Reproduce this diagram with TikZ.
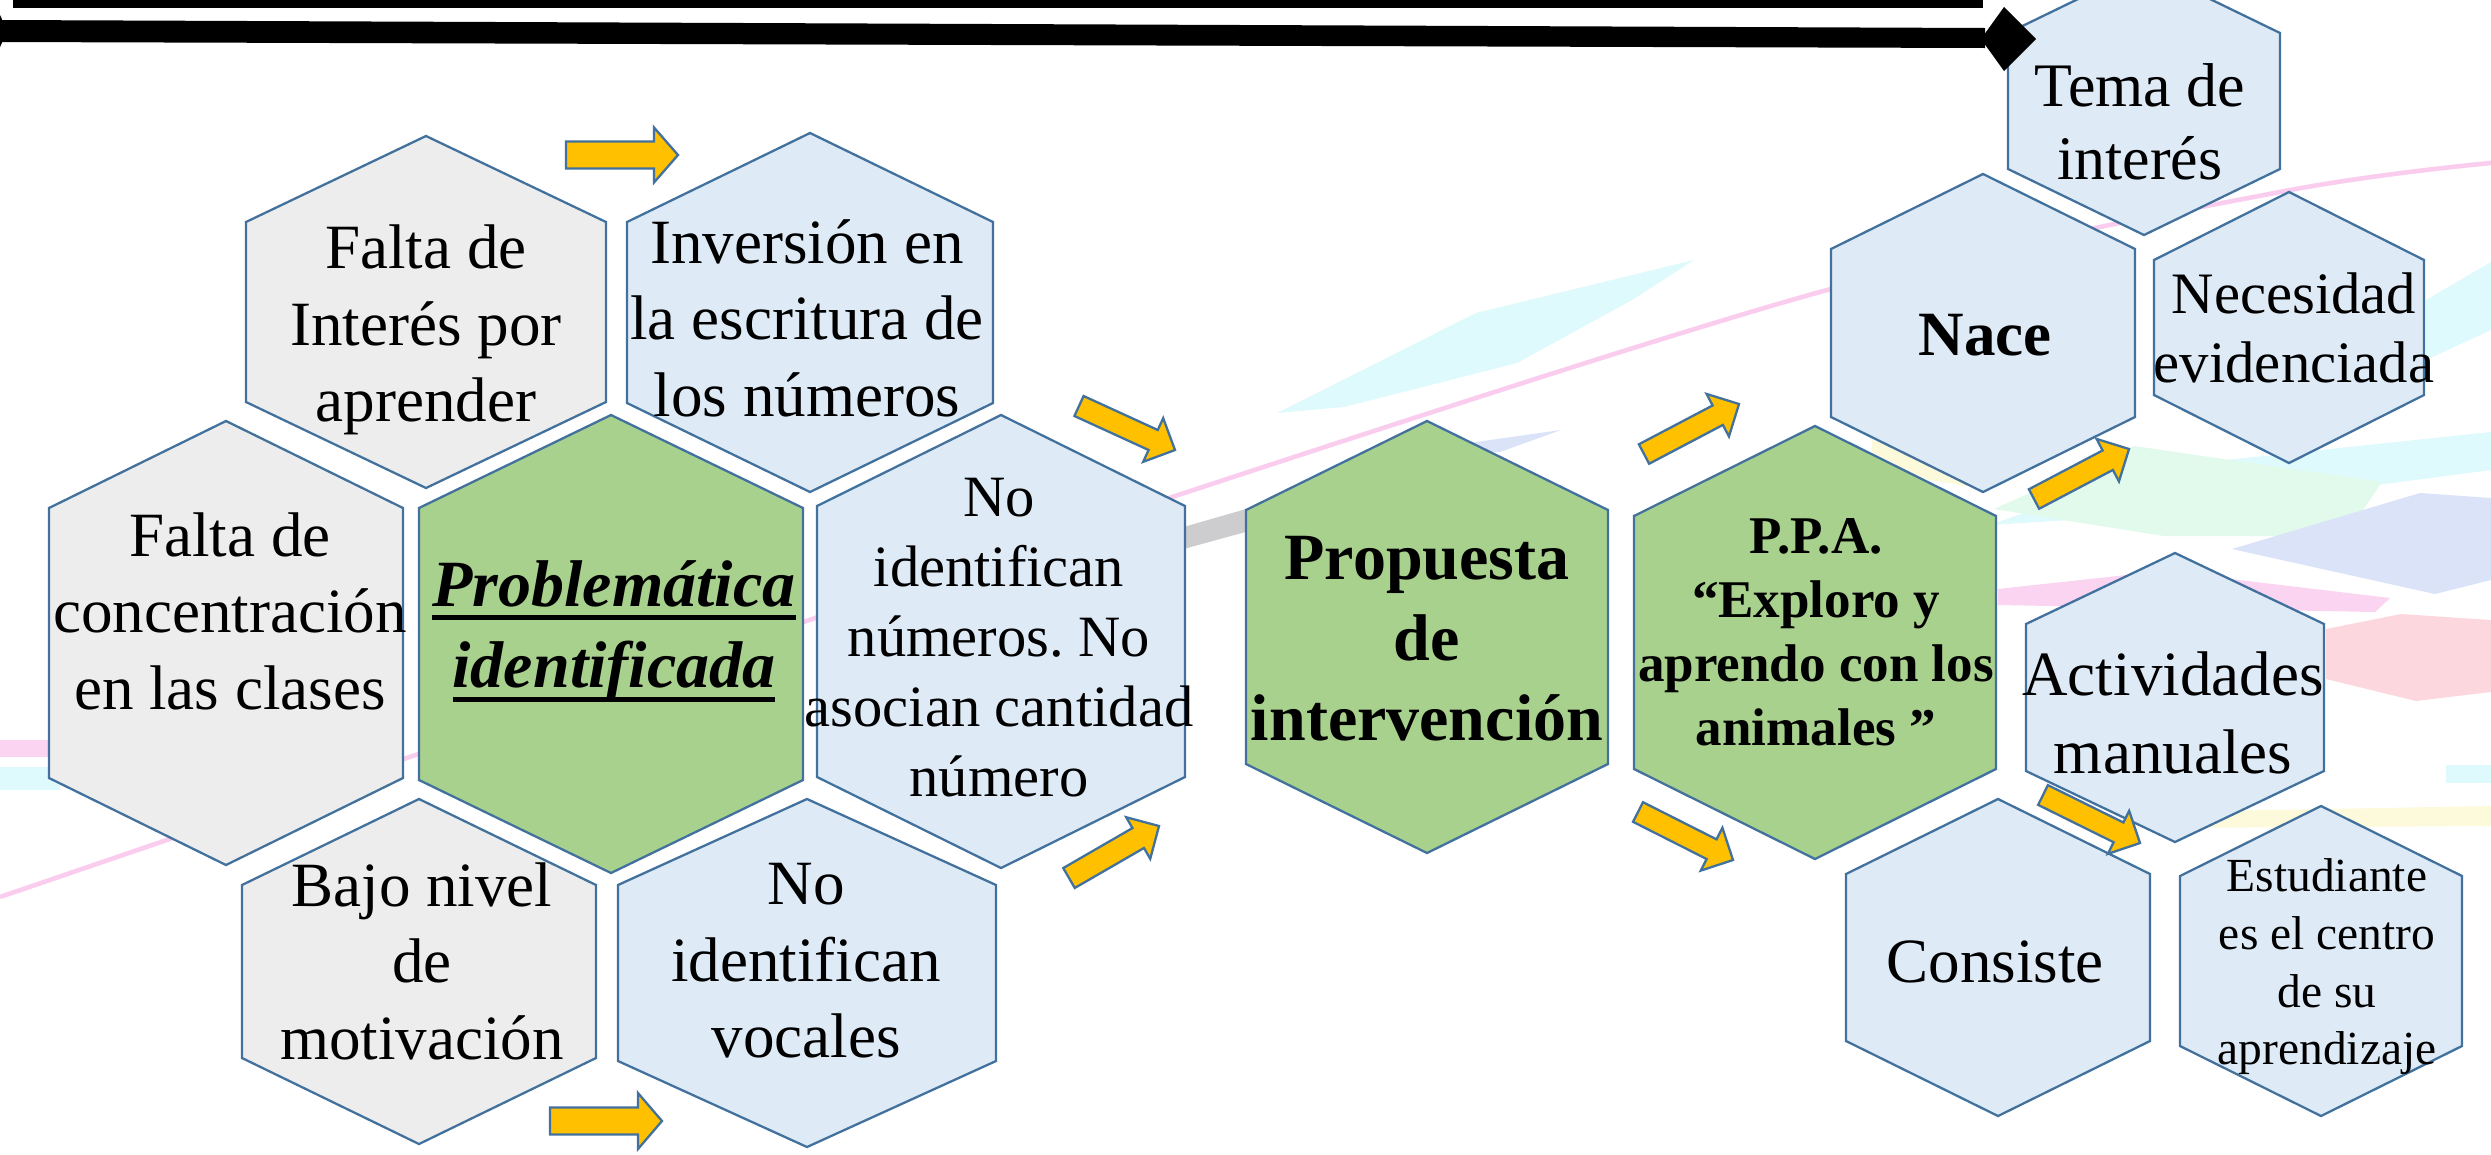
\documentclass[tikz,border=0pt]{standalone}
\usepackage{fontspec}
\setmainfont{Liberation Serif}
\usetikzlibrary{calc}
\frenchspacing
\definecolor{hexborder}{HTML}{41719C}
\definecolor{hexgray}{HTML}{EDEDED}
\definecolor{hexblue}{HTML}{DEEAF6}
\definecolor{hexgreen}{HTML}{A9D18E}
\definecolor{arrowyellow}{HTML}{FFC000}
\definecolor{bgpink}{RGB}{250,205,238}
\definecolor{bgpinkpale}{RGB}{250,212,240}
\definecolor{bgcyan}{RGB}{222,250,252}
\definecolor{bggray}{RGB}{205,205,208}
\definecolor{bglav}{RGB}{218,227,248}
\definecolor{bggreen}{RGB}{226,250,236}
\definecolor{bgsalmon}{RGB}{252,216,222}
\definecolor{bgyellow}{RGB}{252,250,218}

\newcommand\fsz[2]{\fontsize{#1}{#2}\selectfont}
\newcommand\hexshape[6]{%
  \draw[hexbox,fill=#6] (#1,#2) -- ({#1+#4},{#2+#5}) -- ({#1+#4},{#3-#5}) -- (#1,#3)
    -- ({#1-#4},{#3-#5}) -- ({#1-#4},{#2+#5}) -- cycle;}
\newcommand\blockarrow[5]{%
  \coordinate (neck) at ($(#2)!#5!(#1)$);
  \draw[yarr] ($(#1)!#3!90:(#2)$) -- ($(neck)!#3!90:(#2)$) -- ($(neck)!#4!90:(#2)$) -- (#2)
    -- ($(neck)!#4!-90:(#2)$) -- ($(neck)!#3!-90:(#2)$) -- ($(#1)!#3!-90:(#2)$) -- cycle;}
\newcommand\thickul[1]{\setbox0\hbox{#1}\rlap{\rule[-4pt]{\wd0}{1.4pt}}\box0}

\tikzset{
  hexbox/.style={draw=hexborder, line width=0.65pt, line join=miter},
  hexlabel/.style={align=center, inner sep=0pt, text=black},
  yarr/.style={fill=arrowyellow, draw=hexborder, line width=0.65pt, line join=miter},
}

\begin{document}
\begin{tikzpicture}[x=0.01cm, y=-0.01cm]
\useasboundingbox (0,0) rectangle (2491,1154);
\clip (0,0) rectangle (2491,1154);
\fill[white] (0,0) rectangle (2491,1154);

% ---- faint background decoration ----
\fill[bgpinkpale] (0,740) rectangle (60,757);
\fill[bgcyan] (0,767) rectangle (60,790);
\fill[bgcyan] (1277,413) -- (1476,313) -- (1694,260) -- (1632,300) -- (1517,363) -- (1344,407) -- cycle;
\fill[bggray] (1180,528) -- (1260,505) -- (1260,528) -- (1180,550) -- cycle;
\fill[bglav] (1384,455) -- (1561,430) -- (1500,452) -- cycle;
\fill[bgcyan] (1990,525) -- (2150,468) -- (2491,432) -- (2491,470) -- (2150,515) -- cycle;
\fill[bggreen] (2134,446) -- (2382,482) -- (2345,536) -- (2164,536) -- (1994,509) -- cycle;
\fill[bglav] (2232,549) -- (2420,493) -- (2491,498) -- (2491,580) -- (2435,594) -- cycle;
\fill[bgpinkpale] (1998,589) -- (2163,571) -- (2390,598) -- (2375,612) -- (1998,605) -- cycle;
\fill[bgsalmon] (2326,629) -- (2401,614) -- (2491,620) -- (2491,692) -- (2416,701) -- (2326,679) -- cycle;
\fill[bgyellow] (2164,812) -- (2491,806) -- (2491,826) -- (2164,828) -- cycle;
\fill[bgyellow] (1872,440) -- (1990,470) -- (1990,490) -- (1872,470) -- cycle;
\fill[bgcyan] (2426,300) -- (2491,262) -- (2491,330) -- (2426,360) -- cycle;
\fill[bgcyan] (2446,765) rectangle (2491,783);
\draw[bgpink, line width=1.3pt] plot[smooth] coordinates {(0,897) (600,692) (1172,497) (1827,290) (2285,191) (2491,163)};

% ---- hexagons: cx, top, bottom, half width, cap, fill ----
\hexshape{426}{136}{488}{180}{86}{hexgray}
\hexshape{810}{133}{492}{183}{89}{hexblue}
\hexshape{226}{421}{865}{177}{87}{hexgray}
\hexshape{611}{415}{873}{192}{93}{hexgreen}
\hexshape{1001}{415}{868}{184}{91}{hexblue}
\hexshape{419}{799}{1144}{177}{86}{hexgray}
\hexshape{807}{799}{1147}{189}{86}{hexblue}
\hexshape{1427}{421}{853}{181}{89}{hexgreen}
\hexshape{1815}{426}{859}{181}{90}{hexgreen}
\hexshape{2144}{-33}{235}{136}{66}{hexblue}
\hexshape{1983}{174}{492}{152}{75}{hexblue}
\hexshape{2289}{192}{463}{135}{68}{hexblue}
\hexshape{2175}{553}{842}{149}{71}{hexblue}
\hexshape{1998}{799}{1116}{152}{75}{hexblue}
\hexshape{2321}{806}{1116}{141}{70}{hexblue}

% ---- labels ----
\node[hexlabel, font=\fsz{17.93}{21.77}] (h1) at (426,330) {Falta de\\Interés por\\aprender};
\node[hexlabel, font=\fsz{17.93}{21.77}] (h2) at (807,318) {Inversión en\\la escritura de\\los números};
\node[hexlabel, font=\fsz{17.93}{21.77}] (h3) at (230,611) {Falta de\\concentración\\en las clases};
\node[hexlabel, font=\fsz{18.78}{23.2}\bfseries\itshape] (h4) at (614,631) {\thickul{Problemática}\\\thickul{identificada}};
\node[hexlabel, font=\fsz{16.65}{19.9}] (h5) at (999,638) {No\\identifican\\números. No\\asocian cantidad\\número};
\node[hexlabel, font=\fsz{17.93}{21.77}] (h6) at (422,961) {Bajo nivel\\de\\motivación};
\node[hexlabel, font=\fsz{17.93}{21.77}] (h7) at (806,961) {No\\identifican\\vocales};
\node[hexlabel, font=\fsz{18.78}{22.9}\bfseries] (h8) at (1427,639) {Propuesta\\de\\intervención};
\node[hexlabel, font=\fsz{15.08}{18.2}\bfseries] (h9) at (1816,632) {P.P.A.\\“Exploro y\\aprendo con los\\animales ”};
\node[hexlabel, font=\fsz{17.6}{20.7}] (h10) at (2140,122) {Tema de\\interés};
\node[hexlabel, font=\fsz{17.93}{21.77}\bfseries] (h11) at (1985,335) {Nace};
\node[hexlabel, font=\fsz{16.7}{19.6}] (h12) at (2294,328) {Necesidad\\evidenciada};
\node[hexlabel, font=\fsz{17.93}{22.2}] (h13) at (2173,713) {Actividades\\manuales};
\node[hexlabel, font=\fsz{17.93}{21.77}] (h14) at (1995,962) {Consiste};
\node[hexlabel, font=\fsz{13.5}{16.4}] (h15) at (2327,967) {Estudiante\\es el centro\\de su\\aprendizaje};

% ---- yellow block arrows ----
\coordinate (a1t) at (566,155);   \coordinate (a1h) at (678,155);
\coordinate (a2t) at (1079,406);  \coordinate (a2h) at (1175,450);
\coordinate (a3t) at (1069,878);  \coordinate (a3h) at (1159,826);
\coordinate (a4t) at (550,1121);  \coordinate (a4h) at (662,1121);
\coordinate (a5t) at (1644,454);  \coordinate (a5h) at (1739,404);
\coordinate (a6t) at (1638,812);  \coordinate (a6h) at (1733,860);
\coordinate (a7t) at (2034,499);  \coordinate (a7h) at (2129,449);
\coordinate (a8t) at (2043,795);  \coordinate (a8h) at (2140,843);
\blockarrow{a1t}{a1h}{0.135cm}{0.275cm}{0.24cm}
\blockarrow{a4t}{a4h}{0.135cm}{0.28cm}{0.24cm}
\blockarrow{a2t}{a2h}{0.11cm}{0.24cm}{0.24cm}
\blockarrow{a3t}{a3h}{0.115cm}{0.24cm}{0.24cm}
\blockarrow{a5t}{a5h}{0.11cm}{0.24cm}{0.24cm}
\blockarrow{a6t}{a6h}{0.11cm}{0.24cm}{0.24cm}
\blockarrow{a7t}{a7h}{0.11cm}{0.24cm}{0.24cm}
\blockarrow{a8t}{a8h}{0.11cm}{0.24cm}{0.24cm}

% ---- black header bars ----
\coordinate (bars) at (0,31);
\coordinate (bare) at (2004,39);
\fill[black] (13,0) rectangle (1983,8);
\fill[black] (0,20) -- (1985,28) -- (1985,48) -- (0,42) -- cycle;
\fill[black] (1981,39) -- (2004,7) -- (2036,39) -- (2004,71) -- cycle;
\fill[black] (-30,31) circle[radius=0.34cm];
\end{tikzpicture}
\end{document}
